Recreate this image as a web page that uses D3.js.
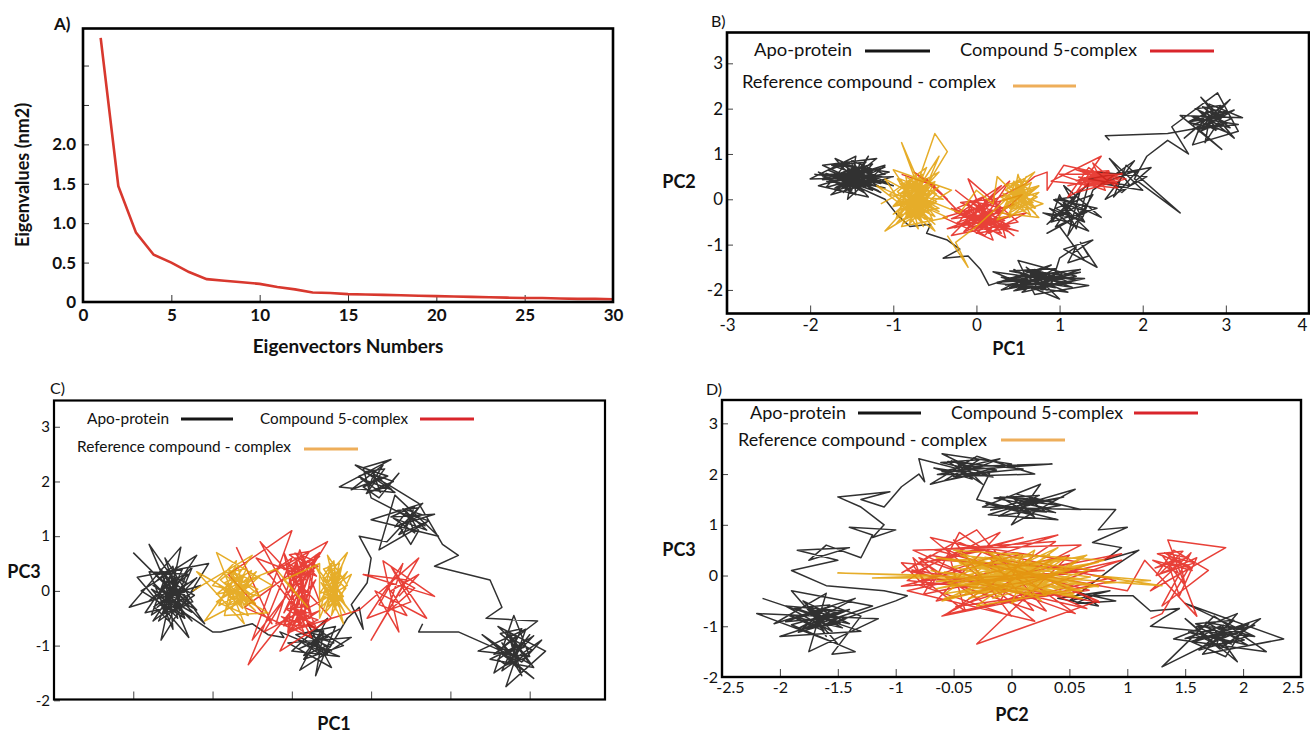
<!DOCTYPE html>
<html>
<head>
<meta charset="utf-8">
<script src="https://cdn.jsdelivr.net/npm/d3@7"></script>
<style>
  body { margin: 0; background: #fff; }
  svg { display: block; }
  text { font-family: Lato, "Open Sans", sans-serif; fill: #111; }
</style>
</head>
<body>
<svg id="fig" width="1310" height="735"></svg>
<script>
// ---------- data ----------
// A) eigenvalues vs eigenvector index
const eigIndex = [1,2,3,4,5,6,7,8,9,10,11,12,13,14,15,16,17,18,19,20,21,22,23,24,25,26,27,28,29,30];
const eigValues = [3.35,1.47,0.88,0.60,0.50,0.38,0.29,0.27,0.25,0.23,0.19,0.16,0.12,0.115,0.10,0.095,0.09,0.085,0.08,0.075,0.07,0.065,0.06,0.055,0.05,0.05,0.045,0.04,0.04,0.035];
const eigXTicks = [0,5,10,15,20,25,30];
const eigYTicks = [0,0.5,1,1.5,2,2.5,3];
const eigYLabels = ["0","0.5","1.0","1.5","2.0","",""];

// legend names
const seriesNames = ["Apo-protein", "Compound 5-complex", "Reference compound - complex"];

// B) PC1 vs PC2
const bApo = [[-1.95,0.55],[-1.05,0.35],[-1.7,0.9],[-1.3,0.05],[-1.9,0.3],[-1.1,0.75],[-1.55,0.0],[-1.45,0.95],[-2.0,0.45],[-1.0,0.5],[-1.75,0.1],[-1.2,0.9],[-1.85,0.75],[-1.15,0.15],[-1.6,0.6],[-1.35,0.3],[-1.8,0.4],[-1.1,0.55],[-1.5,0.85],[-1.45,0.1],[-1.9,0.6],[-1.25,0.2],[-1.65,0.75],[-1.05,0.6],[-1.7,0.25],[-1.3,0.7],[-1.55,0.35],[-1.2,0.45],[-1.6,0.5],[-1.35,0.55],[-1.75,0.55],[-1.15,0.35],[-1.4,0.8],[-1.5,0.2],[-1.85,0.5],[-1.25,0.6],[-1.6,0.15],[-1.3,0.95],[-1.45,0.4],[-1.1,0.25],[-1.65,0.45],[-1.35,0.15],[-1.55,0.65],[-1.0,0.3],[-1.4,0.5],
  [-1.78,0.36],[-1.25,0.64],[-1.63,0.78],[-1.18,0.29],[-1.81,0.57],[-1.4,0.22],[-1.55,0.68],[-1.14,0.5],[-1.7,0.19],[-1.33,0.82],[-1.74,0.75],[-1.21,0.4],[-1.51,0.29],[-1.44,0.71],[-1.85,0.43],[-1.29,0.54],[-1.59,0.47],[-1.1,0.71],[-1.66,0.26],[-1.36,0.36],[-1.48,0.85],[-1.78,0.64],[-1.18,0.19],[-1.63,0.57],[-1.25,0.78],[-1.4,0.47],[-1.81,0.26],[-1.55,0.82],[-1.33,0.26],[-1.7,0.5],
  [-1.1,0.0],[-0.95,-0.35],[-0.8,-0.6],[-0.55,-0.55],[-0.6,-0.75],[-0.35,-0.9],[-0.2,-1.1],[-0.4,-1.3],[-0.1,-1.25],[0.05,-1.55],
  [0.15,-1.9],[0.9,-1.45],[0.3,-2.0],[1.2,-1.7],[0.5,-1.35],[0.7,-2.1],[1.35,-1.9],[0.2,-1.6],[1.0,-2.2],[0.6,-1.5],[0.95,-1.95],[0.35,-1.75],[1.25,-1.55],[0.75,-1.85],[0.45,-1.55],[1.1,-2.05],[0.25,-1.85],[0.85,-1.65],[0.55,-2.05],[1.3,-1.75],[0.65,-1.7],[0.4,-1.95],[1.05,-1.6],[0.8,-2.0],[0.5,-1.8],[0.9,-1.75],[0.7,-1.55],[1.15,-1.85],
  [0.35,-1.89],[1.05,-1.67],[0.55,-1.56],[1.15,-1.94],[0.3,-1.72],[0.85,-2.0],[0.65,-1.64],[1.2,-1.78],[0.45,-2.02],[0.95,-1.53],[0.4,-1.58],[1.1,-1.86],[0.7,-1.94],[0.8,-1.61],[0.25,-1.83],[1.0,-1.75],[0.6,-1.8],[1.25,-1.61],[0.5,-1.97],[0.9,-1.89],
  [1.0,-1.3],[1.2,-1.05],[1.1,-1.4],[1.35,-1.25],[1.25,-0.95],[1.45,-1.5],[1.15,-1.2],[1.4,-0.9],[1.05,-1.1],[1.3,-1.35],
  [1.0,-0.6],[0.85,-0.75],[1.2,-0.4],[0.8,-0.3],[1.35,-0.7],[0.95,0.0],[1.45,-0.2],[0.9,-0.5],[1.25,0.2],[1.1,-0.8],[1.4,0.1],[0.95,-0.2],[1.3,-0.5],[1.05,0.3],[1.5,-0.4],[1.15,-0.1],[0.85,-0.55],[1.35,0.35],[1.2,-0.65],[1.0,0.1],
  [0.9,-0.43],[1.25,-0.13],[1.0,0.03],[1.3,-0.5],[0.88,-0.2],[1.15,-0.58],[1.05,-0.09],[1.33,-0.28],[0.95,-0.61],[1.2,0.06],[0.93,-0.01],[1.28,-0.39],
  [1.4,0.2],[1.9,0.85],[1.55,0.0],[2.05,0.5],[1.45,0.6],[1.75,0.15],[2.1,0.7],[1.35,0.45],[1.85,0.3],[1.6,0.9],[2.0,0.2],[1.5,0.35],[1.95,0.65],[1.65,0.05],[1.8,0.75],[2.45,-0.3],[1.9,0.45],[2.05,0.95],[2.3,1.3],[2.55,1.0],
  [2.35,1.6],[2.9,2.35],[3.15,1.5],[2.6,1.2],[2.8,2.1],[3.2,1.8],[2.45,1.85],[2.95,1.1],[2.7,1.5],[3.05,2.2],[2.5,1.35],[2.85,1.9],[3.1,1.35],[2.65,2.0],[2.9,1.55],[2.55,1.7],[3.0,1.95],[2.75,1.25],[2.8,1.75],[3.15,1.65],[2.6,1.55],[2.95,1.8],[2.7,2.25],[3.05,1.45],[2.85,1.6],
  [2.61,1.65],[2.99,1.91],[2.72,2.04],[3.05,1.58],[2.58,1.84],[2.88,1.52],[2.77,1.94],[3.07,1.78],[2.66,1.48],[2.94,2.07],[2.63,2.0],[3.02,1.68],[2.8,1.58],[2.85,1.97],[2.55,1.71],[2.96,1.81],[2.74,1.74],[3.1,1.97],[2.69,1.55],[2.91,1.65],
  [2.3,1.45],[1.55,1.4],[1.6,1.3]];
const bCmp = [[-0.9,0.55],[-0.5,0.3],[-0.75,0.6],[-0.35,0.0],[-0.6,0.45],[-0.2,-0.3],[0.3,0.3],[-0.3,-0.8],[0.5,-0.5],[-0.1,0.45],[0.2,-0.9],[-0.4,-0.4],[0.55,0.1],[0.0,-0.75],[0.35,-0.65],[-0.25,0.2],[0.45,-0.8],[0.1,-0.3],[-0.2,-0.6],[0.4,0.4],[0.05,-0.55],[0.3,-0.2],[-0.35,-0.65],[0.6,-0.3],[0.15,-0.75],[-0.1,-0.1],[0.25,-0.6],[0.5,-0.7],[-0.05,-0.4],[0.2,0.1],[0.35,-0.85],[-0.3,-0.2],[0.15,-0.45],[0.45,-0.35],[0.0,-0.65],[0.25,-0.5],[0.1,-0.8],[-0.15,-0.5],[0.4,-0.6],[0.05,-0.2],[0.3,-0.75],
  [-0.23,-0.51],[0.3,-0.19],[-0.08,-0.03],[0.38,-0.59],[-0.26,-0.27],[0.15,-0.67],[0.0,-0.15],[0.41,-0.35],[-0.15,-0.71],[0.23,0.01],[-0.19,-0.07],[0.34,-0.47],[0.04,-0.59],[0.11,-0.11],[-0.3,-0.43],[0.26,-0.31],[-0.04,-0.39],[0.45,-0.11],[-0.11,-0.63],[0.19,-0.51],[0.08,0.05],[-0.23,-0.19],[0.38,-0.71],[-0.08,-0.27],[0.3,-0.03],[0.15,-0.39],[-0.26,-0.63],[0.0,0.01],[0.23,-0.63],[-0.15,-0.35],
  [0.6,0.35],[0.7,0.5],[0.85,0.6],[0.85,0.2],
  [1.05,0.75],[1.8,0.45],[1.2,0.15],[1.5,0.95],[0.9,0.4],[1.7,0.25],[1.35,0.7],[1.1,0.05],[1.6,0.6],[1.25,0.45],[1.75,0.55],[1.0,0.55],[1.55,0.2],[1.4,0.8],[1.65,0.4],[1.3,0.3],[1.5,0.55],[1.2,0.65],[1.7,0.35],[1.45,0.45],[1.1,0.3],[1.6,0.5],[1.35,0.55],[1.55,0.35],[1.4,0.4],
  [1.26,0.37],[1.64,0.53],[1.37,0.61],[1.7,0.33],[1.23,0.49],[1.53,0.29],[1.42,0.55],[1.72,0.45],[1.31,0.27],[1.59,0.63],[1.28,0.59],[1.67,0.39],[1.45,0.33],[1.5,0.57],[1.2,0.41],[1.61,0.47],[1.39,0.43],[1.75,0.57],[1.34,0.31],[1.56,0.37]];
const bRef = [[-1.15,-0.1],[-0.45,0.6],[-1.1,-0.7],[-0.3,0.2],[-1.0,0.65],[-0.5,-0.7],[-1.2,0.3],[-0.35,-0.4],[-0.9,-0.6],[-0.6,0.7],[-1.05,0.1],[-0.4,0.0],[-0.85,0.5],[-0.7,-0.65],[-1.1,0.45],[-0.45,-0.2],[-0.95,-0.35],[-0.55,0.4],[-0.8,-0.5],[-0.65,0.55],[-1.0,-0.15],[-0.5,0.15],[-0.9,0.3],[-0.6,-0.45],[-0.75,0.35],[-0.85,-0.2],[-0.55,-0.1],[-0.95,0.45],[-0.7,-0.3],[-0.65,0.2],[-0.8,0.05],[-0.6,-0.25],[-0.9,0.15],[-0.7,0.45],[-0.75,-0.15],[-0.55,0.3],[-0.85,-0.4],[-0.65,0.05],
  [-0.95,-0.27],[-0.56,0.17],[-0.84,0.39],[-0.5,-0.38],[-0.97,0.06],[-0.67,-0.49],[-0.78,0.23],[-0.48,-0.05],[-0.89,-0.55],[-0.62,0.45],[-0.92,0.34],[-0.53,-0.22],[-0.75,-0.38],[-0.7,0.28],[-1.0,-0.16],[-0.59,0.0],[-0.81,-0.1],[-0.45,0.28],[-0.86,-0.44],[-0.64,-0.27],[-0.73,0.5],[-0.95,0.17],[-0.5,-0.55],[-0.84,0.06],[-0.56,0.39],[-0.67,-0.1],[-0.97,-0.44],[-0.78,0.45],[-0.62,-0.44],[-0.89,-0.05],
  [-0.73,-0.05],[-0.92,0.45],[-0.48,0.12],[-0.81,-0.55],[-0.59,0.34],[-1.0,-0.33],[-0.67,0.06],[-0.86,-0.22],[-0.53,-0.44],[-0.75,0.39],[-0.95,-0.05],[-0.5,-0.1],[-0.84,0.17],[-0.64,-0.6],[-0.7,-0.22],[-0.89,0.28],[-0.45,-0.27],[-0.78,0.0],[-0.62,0.23],[-0.97,-0.55],[-0.56,-0.05],[-0.81,-0.33],[-0.67,0.45],[-0.92,0.12],[-0.5,0.39],[-0.73,-0.44],[-0.86,0.0],[-0.59,-0.16],[-0.75,0.17],[-0.64,-0.05],
  [-0.9,1.25],[-0.7,0.4],[-0.5,1.45],[-0.35,1.05],[-0.6,0.3],[-0.45,0.95],[-0.75,0.1],
  [-0.2,-0.3],[0.0,0.2],[0.2,-0.1],
  [0.25,0.5],[0.75,-0.4],[0.3,-0.3],[0.7,0.6],[0.35,0.2],[0.8,-0.1],[0.25,-0.45],[0.6,0.5],[0.4,-0.2],[0.75,0.3],[0.3,0.05],[0.65,-0.35],[0.45,0.4],[0.7,-0.2],[0.35,0.3],[0.6,-0.05],[0.5,0.55],[0.4,-0.4],[0.75,0.15],[0.45,0.0],[0.55,0.35],[0.65,-0.15],[0.5,0.2],[0.4,0.1],[0.6,0.15],
  [0.35,-0.11],[0.66,0.21],[0.44,0.37],[0.71,-0.19],[0.32,0.13],[0.57,-0.27],[0.48,0.25],[0.73,0.05],[0.39,-0.31],[0.62,0.41],[0.37,0.33],[0.68,-0.07],[0.5,-0.19],[0.55,0.29],[0.3,-0.03],[0.64,0.09],[0.46,0.01],[0.75,0.29],[0.41,-0.23],[0.59,-0.11],[0.53,0.45],[0.35,0.21],[0.71,-0.31],[0.44,0.13],[0.66,0.37],[0.57,0.01],[0.32,-0.23],[0.48,0.41],[0.62,-0.23],[0.39,0.05],
  [0.0,-0.6],[-0.25,-0.95],[-0.1,-1.5],[-0.35,-0.8]];

// C) PC1 vs PC3
const cApo = [[-2.0,0.7],[-1.1,-0.6],[-1.8,0.85],[-1.3,-0.85],[-1.95,0.25],[-1.05,0.5],[-1.65,-0.9],[-1.4,0.8],[-2.05,-0.3],[-1.15,0.1],[-1.75,-0.55],[-1.2,0.65],[-1.9,0.0],[-1.35,-0.5],[-1.6,0.6],[-1.25,-0.2],[-1.85,-0.4],[-1.45,0.45],[-1.7,-0.15],[-1.3,0.3],[-1.8,0.35],[-1.5,-0.7],[-1.55,0.2],[-1.2,-0.35],[-1.75,0.1],[-1.4,-0.25],[-1.65,0.4],[-1.5,-0.4],[-1.35,0.1],[-1.7,-0.3],[-1.45,0.0],[-1.6,-0.1],[-1.25,0.45],[-1.55,-0.55],
  [-1.74,-0.29],[-1.32,0.14],[-1.62,0.35],[-1.26,-0.39],[-1.77,0.03],[-1.44,-0.5],[-1.56,0.19],[-1.23,-0.08],[-1.68,-0.55],[-1.38,0.4],[-1.71,0.29],[-1.29,-0.23],[-1.53,-0.39],[-1.47,0.24],[-1.8,-0.18],[-1.35,-0.02],[-1.59,-0.13],[-1.2,0.24],[-1.65,-0.44],[-1.41,-0.29],[-1.5,0.45],[-1.74,0.14],[-1.26,-0.55],[-1.62,0.03],[-1.32,0.35],[-1.44,-0.13],[-1.77,-0.44],[-1.56,0.4],[-1.38,-0.44],[-1.68,-0.08],
  [-1.0,-0.75],[-0.9,-0.75],[-0.5,-0.6],[-0.3,-0.8],[-0.1,-0.85],
  [-0.15,-0.75],[0.6,-1.2],[0.0,-1.1],[0.45,-0.5],[0.1,-1.45],[0.75,-0.85],[-0.05,-0.95],[0.5,-1.4],[0.2,-0.6],[0.65,-1.0],[0.15,-1.25],[0.4,-0.75],[0.3,-1.55],[0.55,-0.65],[0.05,-0.8],[0.35,-1.05],[0.25,-0.85],[0.45,-1.15],[0.2,-1.0],[0.6,-0.7],
  [0.1,-1.05],[0.45,-0.85],[0.2,-0.75],[0.5,-1.1],[0.08,-0.9],[0.35,-1.15],[0.25,-0.83],[0.53,-0.95],[0.15,-1.18],[0.4,-0.73],[0.13,-0.78],[0.48,-1.03],
  [0.7,-0.5],[0.85,-0.3],[0.9,-0.7],[0.75,-0.25],
  [0.95,0.15],[1.0,0.6],[0.85,1.0],
  [1.2,0.9],[1.65,1.6],[1.0,1.3],[1.85,1.0],[1.3,1.75],[1.1,0.75],[1.7,1.25],[1.4,1.0],[1.55,1.55],[1.25,1.35],[1.8,1.4],[1.35,1.2],[1.5,0.85],[1.6,1.1],[1.45,1.45],
  [1.3,1.17],[1.65,1.39],[1.4,1.5],[1.7,1.11],[1.28,1.33],[1.55,1.06],[1.45,1.41],[1.73,1.28],[1.35,1.03],[1.6,1.52],[1.33,1.47],[1.68,1.19],
  [1.0,1.7],[0.9,2.25],[1.25,2.4],[0.6,1.9],[1.3,1.8],[0.8,2.3],[1.2,2.1],[0.75,1.85],[1.15,2.3],[1.0,1.95],[0.85,2.1],[1.05,2.2],[0.95,1.8],[1.2,1.9],[1.35,2.15],[1.1,1.7],
  [0.9,1.9],[1.21,2.1],[0.99,2.2],[1.26,1.85],[0.87,2.05],[1.12,1.8],[1.03,2.13],[1.28,2.0],[0.94,1.78],[1.17,2.23],[0.92,2.18],[1.23,1.93],
  [1.6,1.6],[1.9,0.85],[2.1,0.65],[1.8,0.45],
  [2.5,0.2],[2.65,-0.3],
  [2.45,-0.5],[3.1,-0.55],[2.6,-1.1],[3.05,-1.6],[2.4,-0.8],[2.9,-1.3],[3.15,-0.9],[2.55,-1.5],[2.8,-0.45],[3.0,-1.2],[2.35,-1.1],[2.95,-0.7],[2.7,-1.75],[3.2,-1.1],[2.6,-0.65],[2.85,-1.0],[2.5,-1.25],[3.05,-1.4],[2.75,-0.8],[2.9,-1.55],[2.65,-0.95],[2.8,-1.2],[3.0,-0.8],[2.7,-1.35],
  [2.6,-1.25],[2.95,-0.91],[2.7,-0.74],[3.0,-1.33],[2.58,-0.99],[2.85,-1.42],[2.75,-0.86],[3.03,-1.08],[2.65,-1.46],[2.9,-0.69],[2.63,-0.78],[2.98,-1.2],[2.78,-1.33],[2.83,-0.82],[2.55,-1.16],[2.93,-1.03],[2.73,-1.12],[3.05,-0.82],[2.68,-1.37],[2.88,-1.25],
  [2.1,-0.75],[1.6,-0.75],[1.65,-0.6]];
const cCmp = [[-0.7,0.8],[-0.25,-0.6],[-0.8,0.3],[0.0,1.1],[-0.5,-0.9],[0.35,0.7],[-0.6,-0.3],[0.25,-0.85],[-0.4,0.9],[0.5,-0.5],[-0.15,-1.1],[0.3,0.2],[-0.55,-1.35],[0.0,0.6],[-0.3,0.3],[0.45,0.9],[-0.1,-0.4],[0.2,0.55],[-0.35,-0.75],[0.35,-0.2],[0.1,0.75],[-0.2,-0.6],[0.3,-0.65],[0.0,0.35],[-0.45,0.6],[0.15,-0.5],[0.25,0.4],[-0.05,-0.75],[0.05,0.5],[0.2,-0.3],[0.3,0.65],[0.0,-0.55],[0.15,0.25],[0.1,-0.7],[-0.1,0.7],[0.25,-0.45],[0.05,0.6],[0.2,-0.6],
  [-0.06,0.33],[0.26,0.57],[0.04,0.69],[0.31,0.27],[-0.08,0.51],[0.17,0.21],[0.08,0.6],[0.33,0.45],[-0.01,0.18],[0.22,0.72],[-0.03,0.66],[0.28,0.36],[0.1,0.27],[0.15,0.63],[-0.1,0.39],[0.24,0.48],[0.06,0.42],[0.35,0.63],[0.01,0.24],[0.19,0.33],
  [-0.1,-0.64],[0.25,-0.42],[0.0,-0.31],[0.3,-0.69],[-0.13,-0.47],[0.15,-0.75],[0.05,-0.39],[0.33,-0.53],[-0.05,-0.77],[0.2,-0.28],[-0.08,-0.33],[0.28,-0.61],[0.08,-0.69],[0.13,-0.36],[-0.15,-0.58],[0.23,-0.5],[0.03,-0.55],[0.35,-0.36],[-0.03,-0.72],[0.18,-0.64],
  [0.85,-0.35],[1.6,0.6],[1.0,-0.9],[1.45,0.2],[0.9,0.3],[1.8,-0.1],[1.15,0.55],[1.35,-0.75],[1.05,0.0],[1.7,-0.5],[1.25,0.45],[1.5,-0.2],[0.95,-0.5],[1.4,0.5],[1.2,-0.4],[1.55,0.05],[1.3,0.25],[1.1,-0.25],[1.45,-0.45],[1.25,0.0],[1.6,0.3],[1.35,-0.1]];
const cRef = [[-1.25,0.0],[-0.5,0.65],[-1.1,-0.55],[-0.25,0.1],[-0.95,0.7],[-0.6,-0.6],[-1.2,0.35],[-0.3,-0.4],[-0.85,-0.45],[-0.7,0.55],[-1.0,0.1],[-0.4,-0.1],[-0.8,0.4],[-0.55,-0.45],[-0.95,-0.2],[-0.45,0.35],[-0.75,-0.3],[-0.6,0.3],[-0.85,0.15],[-0.5,-0.2],[-0.7,0.0],[-0.55,0.15],[-0.8,-0.1],[-0.65,-0.25],[-0.6,0.1],
  [-0.9,-0.15],[-0.51,0.2],[-0.79,0.37],[-0.46,-0.23],[-0.92,0.11],[-0.62,-0.32],[-0.73,0.24],[-0.43,0.03],[-0.84,-0.36],[-0.57,0.41],[-0.87,0.32],[-0.48,-0.1],[-0.7,-0.23],[-0.65,0.28],[-0.95,-0.06],[-0.54,0.07],[-0.76,-0.02],[-0.4,0.28],[-0.81,-0.27],[-0.59,-0.15],[-0.68,0.45],[-0.9,0.2],[-0.46,-0.36],[-0.79,0.11],[-0.51,0.37],[-0.62,-0.02],[-0.92,-0.27],[-0.73,0.41],[-0.57,-0.27],[-0.84,0.03],
  [-0.2,0.4],[0.2,-0.3],[-0.1,0.2],[0.35,0.5],
  [0.35,-0.5],[0.7,0.7],[0.4,0.2],[0.75,-0.4],[0.3,0.45],[0.65,-0.6],[0.45,0.65],[0.7,0.1],[0.35,-0.2],[0.6,0.4],[0.5,-0.45],[0.75,0.3],[0.4,-0.05],[0.65,-0.2],[0.5,0.3],[0.55,-0.1],[0.45,0.1],[0.6,0.0],
  [0.39,-0.15],[0.63,0.25],[0.46,0.45],[0.67,-0.25],[0.37,0.15],[0.56,-0.35],[0.49,0.3],[0.68,0.05],[0.42,-0.4],[0.6,0.5],[0.4,0.4],[0.65,-0.1],[0.51,-0.25],[0.54,0.35],[0.35,-0.05],[0.61,0.1],[0.47,0.0],[0.7,0.35],[0.44,-0.3],[0.58,-0.15],[0.53,0.55],[0.39,0.25],[0.67,-0.4],[0.46,0.15],[0.63,0.45],[0.56,0.0],[0.37,-0.3],[0.49,0.5],[0.6,-0.3],[0.42,0.05]];

// D) PC2 vs PC3
const dApo = [[-2.15,-0.45],[-1.3,-1.1],[-2.0,-1.2],[-1.2,-0.6],[-1.9,-0.3],[-1.5,-1.35],[-2.2,-0.75],[-1.15,-0.85],[-1.75,-1.5],[-1.6,-0.35],[-2.05,-0.95],[-1.35,-0.45],[-1.85,-1.05],[-1.45,-0.7],[-1.95,-0.6],[-1.55,-1.1],[-1.8,-0.5],[-1.4,-0.95],[-1.7,-0.8],[-1.6,-1.2],[-1.75,-0.65],[-1.5,-0.85],[-1.65,-1.0],[-1.85,-0.85],[-1.55,-0.6],[-1.3,-0.8],[-1.55,-1.55],[-1.35,-1.5],
  [-1.9,-0.97],[-1.51,-0.73],[-1.79,-0.61],[-1.46,-1.03],[-1.92,-0.79],[-1.62,-1.09],[-1.73,-0.7],[-1.43,-0.85],[-1.84,-1.12],[-1.57,-0.58],[-1.87,-0.64],[-1.48,-0.94],[-1.7,-1.03],[-1.65,-0.67],[-1.95,-0.91],[-1.54,-0.82],[-1.76,-0.88],[-1.4,-0.67],[-1.81,-1.06],[-1.59,-0.97],
  [-1.0,-0.5],[-0.9,-0.4],[-1.1,-0.3],
  [-1.6,-0.2],[-1.9,0.1],[-1.5,0.3],[-1.85,0.5],[-1.4,0.55],[-1.75,0.3],[-1.6,0.6],[-1.3,0.35],
  [-1.2,0.8],[-1.4,0.95],[-1.0,0.9],[-1.2,0.75],[-1.1,1.0],
  [-1.3,1.35],[-1.5,1.55],[-1.05,1.65],[-1.3,1.5],[-1.1,1.35],[-0.95,1.75],
  [-0.8,2.0],[-0.75,1.85],
  [-0.8,2.3],[-0.2,1.95],[-0.6,2.4],[0.0,2.2],[-0.7,1.8],[-0.3,2.35],[0.2,2.0],[-0.5,1.95],[-0.1,2.3],[-0.6,2.05],[0.35,2.2],[-0.4,2.15],[-0.25,1.8],[-0.55,2.25],[0.1,2.1],[-0.35,2.0],
  [-0.64,1.99],[-0.22,2.17],[-0.52,2.26],[-0.16,1.94],[-0.67,2.12],[-0.34,1.9],[-0.46,2.19],[-0.13,2.08],[-0.58,1.87],[-0.28,2.28],[-0.61,2.23],[-0.19,2.01],
  [-0.3,1.5],[0.4,1.1],[-0.2,1.2],[0.55,1.7],[0.0,1.0],[0.25,1.8],[-0.25,1.35],[0.6,1.3],[0.05,1.6],[0.35,1.45],[-0.1,1.55],[0.2,1.15],[0.1,1.4],[0.45,1.55],[0.0,1.3],[0.3,1.25],[0.15,1.5],
  [-0.18,1.29],[0.31,1.47],[-0.04,1.56],[0.38,1.24],[-0.22,1.42],[0.17,1.2],[0.03,1.49],[0.42,1.38],[-0.11,1.17],[0.24,1.58],[-0.15,1.53],[0.35,1.31],
  [0.9,1.3],[0.75,0.9],[1.0,0.95],[0.7,0.65],[0.95,0.55],[0.8,0.3],[1.1,0.5],[0.9,0.2],
  [0.5,-0.5],[0.85,-0.3],[0.4,-0.45],[0.75,-0.6],[0.6,-0.35],[0.9,-0.5],[0.55,-0.55],[0.7,-0.4],[1.05,-0.4],
  [1.2,-0.7],[1.45,-0.65],[1.3,-0.85],
  [1.2,-1.0],[2.1,-1.2],[1.5,-0.55],[2.35,-1.25],[1.65,-1.55],[1.95,-0.75],[1.4,-1.25],[2.2,-1.5],[1.75,-0.8],[1.3,-1.8],[2.05,-0.95],[1.55,-1.3],[1.85,-1.6],[2.0,-1.05],[1.6,-1.0],[1.9,-1.35],[1.7,-1.2],[2.15,-0.85],[1.8,-1.45],[1.5,-0.85],[1.95,-1.7],[1.75,-1.05],
  [1.56,-1.31],[1.98,-1.05],[1.68,-0.92],[2.04,-1.37],[1.53,-1.11],[1.86,-1.44],[1.74,-1.01],[2.07,-1.18],[1.62,-1.47],[1.92,-0.88],[1.59,-0.95],[2.01,-1.27],[1.77,-1.37],[1.83,-0.98],[1.5,-1.24],[1.95,-1.14],[1.71,-1.21],[2.1,-0.98],[1.65,-1.4],[1.89,-1.31]];
const dCmp = [[-0.95,0.05],[-0.3,0.9],[0.3,-0.7],[-0.85,0.5],[0.6,0.6],[-0.6,-0.8],[0.9,-0.1],[-0.7,0.75],[0.2,-0.9],[-0.9,-0.3],[0.5,0.4],[-0.3,-1.35],[0.75,-0.5],[-0.5,0.7],[0.0,-0.8],[-0.85,-0.15],[0.4,0.8],[-0.75,0.25],[-0.2,-0.6],[0.95,0.3],[-0.65,-0.5],[-0.1,0.85],[-0.8,0.1],[0.65,-0.65],[-0.55,0.5],[-0.4,-0.7],[-0.75,-0.1],[0.8,0.1],[-0.6,0.3],[0.1,0.75],[-0.85,0.2],[-0.7,-0.25],[-0.45,0.85],[0.55,-0.75],[-0.8,0.35],[-0.65,0.05],
  [-0.76,-0.37],[0.57,0.27],[-0.38,0.59],[0.76,-0.53],[-0.86,0.11],[0.19,-0.69],[-0.19,0.35],[0.86,-0.05],[-0.57,-0.77],[0.38,0.67],[-0.67,0.51],[0.67,-0.29],[-0.1,-0.53],[0.1,0.43],[-0.95,-0.21],[0.48,0.03],[-0.29,-0.13],[0.95,0.43],[-0.48,-0.61],[0.29,-0.37],
  [-0.9,-0.1],[-0.7,0.2],[-0.95,0.25],[-0.75,-0.2],[-0.85,0.35],[-0.65,-0.05],[-0.9,0.1],[-0.7,0.4],[1.0,-0.3],
  [1.15,0.3],[1.6,-0.8],[1.35,0.7],[1.85,0.55],[1.2,-0.3],[1.55,0.45],[1.3,-0.6],[1.7,0.1],[1.4,0.5],[1.25,0.0],[1.6,0.35],[1.45,-0.4],[1.35,0.25],[1.55,0.15],[1.3,0.4],[1.5,-0.2],[1.45,0.35],
  [1.24,0.15],[1.52,0.35],[1.32,0.45],[1.56,0.1],[1.22,0.3],[1.44,0.05],[1.36,0.38],[1.58,0.25],[1.28,0.03],[1.48,0.48],[1.26,0.43],[1.54,0.18],
  [1.3,-0.75],[1.2,-0.85]];
const dRef = [[-0.7,0.1],[0.6,-0.45],[-0.5,0.5],[0.8,0.3],[-0.6,-0.5],[0.4,0.55],[-0.3,-0.6],[0.75,-0.2],[-0.65,0.35],[0.5,0.1],[-0.4,-0.35],[0.2,0.5],[0.0,-0.55],[0.65,0.4],[-0.55,-0.15],[0.3,-0.4],[-0.2,0.45],[0.55,-0.3],[-0.45,0.25],[0.1,-0.35],[-0.1,0.3],[0.45,-0.1],[-0.3,0.15],[0.25,0.25],[-0.35,-0.2],[0.35,0.0],[-0.15,-0.3],[0.0,0.2],[-0.25,0.0],[0.15,-0.15],[0.1,0.1],[-0.05,-0.1],
  [-0.51,-0.22],[0.47,0.17],[-0.23,0.36],[0.61,-0.31],[-0.58,0.07],[0.19,-0.41],[-0.09,0.21],[0.68,-0.03],[-0.37,-0.45],[0.33,0.4],[-0.44,0.31],[0.54,-0.17],[-0.02,-0.31],[0.12,0.26],[-0.65,-0.12],[0.4,0.02],[-0.16,-0.07],[0.75,0.26],[-0.3,-0.36],[0.26,-0.22],[0.05,0.45],[-0.51,0.17],[0.61,-0.45],[-0.23,0.07],[0.47,0.36],[0.19,-0.07],[-0.58,-0.36],[-0.09,0.4],[0.33,-0.36],[-0.37,-0.03],
  [-1.5,0.05],[-0.6,0.0],[-1.2,-0.05],[-0.55,-0.05],
  [0.05,-0.03],[-0.44,0.4],[0.68,0.12],[-0.16,-0.45],[0.4,0.31],[-0.65,-0.26],[0.19,0.07],[-0.3,-0.17],[0.54,-0.36],[-0.02,0.36],[-0.51,-0.03],[0.61,-0.07],[-0.23,0.17],[0.26,-0.5],[0.12,-0.17],[-0.37,0.26],[0.75,-0.22],[-0.09,0.02],[0.33,0.21],[-0.58,-0.45],[0.47,-0.03],[-0.16,-0.26],[0.19,0.4],[-0.44,0.12],[0.61,0.36],[0.05,-0.36],[-0.3,0.02],[0.4,-0.12],[-0.02,0.17],[0.26,-0.03],
  [1.3,-0.2],[0.7,0.0],[1.2,-0.1],[0.8,-0.15]];

const pcTicksB = [-3,-2,-1,0,1,2,3,4];
const pcTicksY = [-2,-1,0,1,2,3];
const pcTicksC = [-2,-1,0,1,2,3];
const pcTicksD = [-2.5,-2,-1.5,-1,-0.5,0,0.5,1,1.5,2,2.5];
const pcLabelsD = ["-2.5","-2","-1.5","-1","-0.05","0","0.05","1","1.5","2","2.5"];

const colors = ["#151515", "#e5261c", "#e3a20b"];
const legendColors = ["#151515", "#d9252b", "#eeae5a"];

// ---------- drawing ----------
const svg = d3.select("#fig");

// panel A
const xA = d3.scaleLinear().domain([0, 30]).range([83, 613]);
const yA = d3.scaleLinear().domain([0, 3.47]).range([302, 28.5]);
const gA = svg.append("g");

gA.append("g")
    .attr("transform", "translate(0,302)")
    .call(d3.axisBottom(xA).tickValues(eigXTicks).tickSize(-7).tickPadding(7))
    .call(g => g.select(".domain").remove())
    .call(g => g.selectAll("text").style("font-size", "17px").style("font-weight", "700").attr("fill", "#111"));
gA.append("g")
    .attr("transform", "translate(83,0)")
    .call(d3.axisLeft(yA).tickValues(eigYTicks).tickSize(-6).tickPadding(7).tickFormat((d, i) => eigYLabels[i]))
    .call(g => g.select(".domain").remove())
    .call(g => g.selectAll("text").style("font-size", "17px").style("font-weight", "700").attr("fill", "#111"));
gA.selectAll(".tick line").attr("stroke", "#333");

gA.append("path")
    .datum(eigIndex.map((d, i) => [d, eigValues[i]]))
    .attr("fill", "none")
    .attr("stroke", "#d8382e")
    .attr("stroke-width", 2.6)
    .attr("d", d3.line().x(d => xA(d[0])).y(d => yA(d[1])));

gA.append("rect").attr("x", 83).attr("y", 28.5).attr("width", 530).attr("height", 273.5)
    .attr("fill", "none").attr("stroke", "#000").attr("stroke-width", 2.6);

gA.append("text").attr("x", 54).attr("y", 30).text("A)")
    .style("font-size", "17px").style("font-weight", "700");
gA.append("text").attr("transform", "translate(29,175) rotate(-90)")
    .attr("text-anchor", "middle").text("Eigenvalues (nm2)")
    .style("font-size", "18px").style("font-weight", "700");
gA.append("text").attr("x", 348).attr("y", 353).attr("text-anchor", "middle")
    .text("Eigenvectors Numbers")
    .style("font-size", "19px").style("font-weight", "700");

// PCA panels
function drawPca(cfg) {
  const x = d3.scaleLinear().domain(cfg.xDomain).range([cfg.left, cfg.right]);
  const y = d3.scaleLinear().domain(cfg.yDomain).range([cfg.bottom, cfg.top]);
  const g = svg.append("g");
  const clipId = "clip" + cfg.tag;

  g.append("clipPath").attr("id", clipId)
    .append("rect").attr("x", cfg.left).attr("y", cfg.top)
    .attr("width", cfg.right - cfg.left).attr("height", cfg.bottom - cfg.top);

  const xAxis = d3.axisBottom(x).tickValues(cfg.xTicks).tickSize(-8).tickPadding(5)
      .tickFormat((d, i) => cfg.xLabels ? cfg.xLabels[i] : String(d));
  g.append("g").attr("transform", `translate(0,${cfg.bottom})`).call(xAxis)
    .call(a => a.select(".domain").remove())
    .call(a => a.selectAll("text").style("font-size", cfg.tickFont).attr("fill", "#222")
      .attr("dx", (d, i, n) => i === 0 ? cfg.firstDx || 0 : (i === n.length - 1 ? cfg.lastDx || 0 : 0)));

  g.append("g").attr("transform", `translate(${cfg.left},0)`)
    .call(d3.axisLeft(y).tickValues(pcTicksY).tickSize(-6).tickPadding(4).tickFormat(d => String(d)))
    .call(a => a.select(".domain").remove())
    .call(a => a.selectAll("text").style("font-size", cfg.tickFont).attr("fill", "#222"));
  g.selectAll(".tick line").attr("stroke", "#444");

  const line = d3.line().x(d => x(d[0])).y(d => y(d[1]));
  const lines = g.append("g").attr("clip-path", `url(#${clipId})`);
  cfg.series.forEach((s, i) => {
    lines.append("path").datum(s)
      .attr("fill", "none")
      .attr("stroke", colors[i])
      .attr("stroke-width", 1.5)
      .attr("stroke-opacity", 0.88)
      .attr("stroke-linejoin", "round")
      .attr("d", line);
  });

  g.append("rect").attr("x", cfg.left).attr("y", cfg.top)
    .attr("width", cfg.right - cfg.left).attr("height", cfg.bottom - cfg.top)
    .attr("fill", "none").attr("stroke", "#000").attr("stroke-width", cfg.frameW);

  // legend
  cfg.legend.forEach((L, i) => {
    g.append("text").attr("x", L.tx).attr("y", L.ty).attr("dy", "0.35em")
      .attr("textLength", L.tw).attr("lengthAdjust", "spacingAndGlyphs")
      .style("font-size", cfg.legFont).text(seriesNames[i]);
    g.append("line").attr("x1", L.lx1).attr("x2", L.lx2).attr("y1", L.ly).attr("y2", L.ly)
      .attr("stroke", legendColors[i]).attr("stroke-width", 3);
  });

  g.append("text").attr("x", cfg.tagX).attr("y", cfg.tagY).text(cfg.tag + ")")
    .style("font-size", "16px");
  g.append("text").attr("x", cfg.xtX).attr("y", cfg.xtY).attr("text-anchor", "middle")
    .text(cfg.xTitle).style("font-size", "18px").style("font-weight", "700");
  g.append("text").attr("x", cfg.ytX).attr("y", cfg.ytY).attr("dy", "0.35em").attr("text-anchor", "middle")
    .text(cfg.yTitle).style("font-size", "18px").style("font-weight", "700");
}

drawPca({
  tag: "B", left: 727, right: 1309, top: 32.5, bottom: 313.5,
  xDomain: [-3, 4], yDomain: [-2.52, 3.68], xTicks: pcTicksB, lastDx: -7,
  tickFont: "17px", legFont: "17px", frameW: 2.6,
  series: [bApo, bCmp, bRef],
  legend: [
    {tx: 754, ty: 50.5, tw: 98, lx1: 865, lx2: 930, ly: 51},
    {tx: 960, ty: 50.5, tw: 177, lx1: 1150, lx2: 1214, ly: 51},
    {tx: 742, ty: 82, tw: 254, lx1: 1013, lx2: 1076, ly: 86}
  ],
  tagX: 711, tagY: 27, xTitle: "PC1", xtX: 1009, xtY: 355, yTitle: "PC2", ytX: 679, ytY: 182
});

drawPca({
  tag: "C", left: 54, right: 605, top: 400.5, bottom: 699.5,
  xDomain: [-3, 3.95], yDomain: [-1.985, 3.48], xTicks: pcTicksC, xLabels: pcTicksC.map(() => ""),
  tickFont: "15px", legFont: "15px", frameW: 2.2,
  series: [cApo, cCmp, cRef],
  legend: [
    {tx: 87, ty: 419, tw: 82, lx1: 181, lx2: 233, ly: 419},
    {tx: 260, ty: 419, tw: 148, lx1: 420, lx2: 474, ly: 419},
    {tx: 77, ty: 447, tw: 214, lx1: 304, lx2: 358, ly: 449}
  ],
  tagX: 50, tagY: 394, xTitle: "PC1", xtX: 334, xtY: 730, yTitle: "PC3", ytX: 24, ytY: 572
});

drawPca({
  tag: "D", left: 722, right: 1301, top: 400, bottom: 677,
  xDomain: [-2.5, 2.5], yDomain: [-2.0, 3.46], xTicks: pcTicksD, xLabels: pcLabelsD, firstDx: 8, lastDx: -8,
  tickFont: "16px", legFont: "17px", frameW: 2.4,
  series: [dApo, dCmp, dRef],
  legend: [
    {tx: 750, ty: 413, tw: 96, lx1: 858, lx2: 921, ly: 413},
    {tx: 951, ty: 413, tw: 172, lx1: 1134, lx2: 1198, ly: 413},
    {tx: 738, ty: 440, tw: 249, lx1: 1001, lx2: 1065, ly: 440}
  ],
  tagX: 706, tagY: 395, xTitle: "PC2", xtX: 1012, xtY: 721, yTitle: "PC3", ytX: 679, ytY: 550
});
</script>
</body>
</html>
